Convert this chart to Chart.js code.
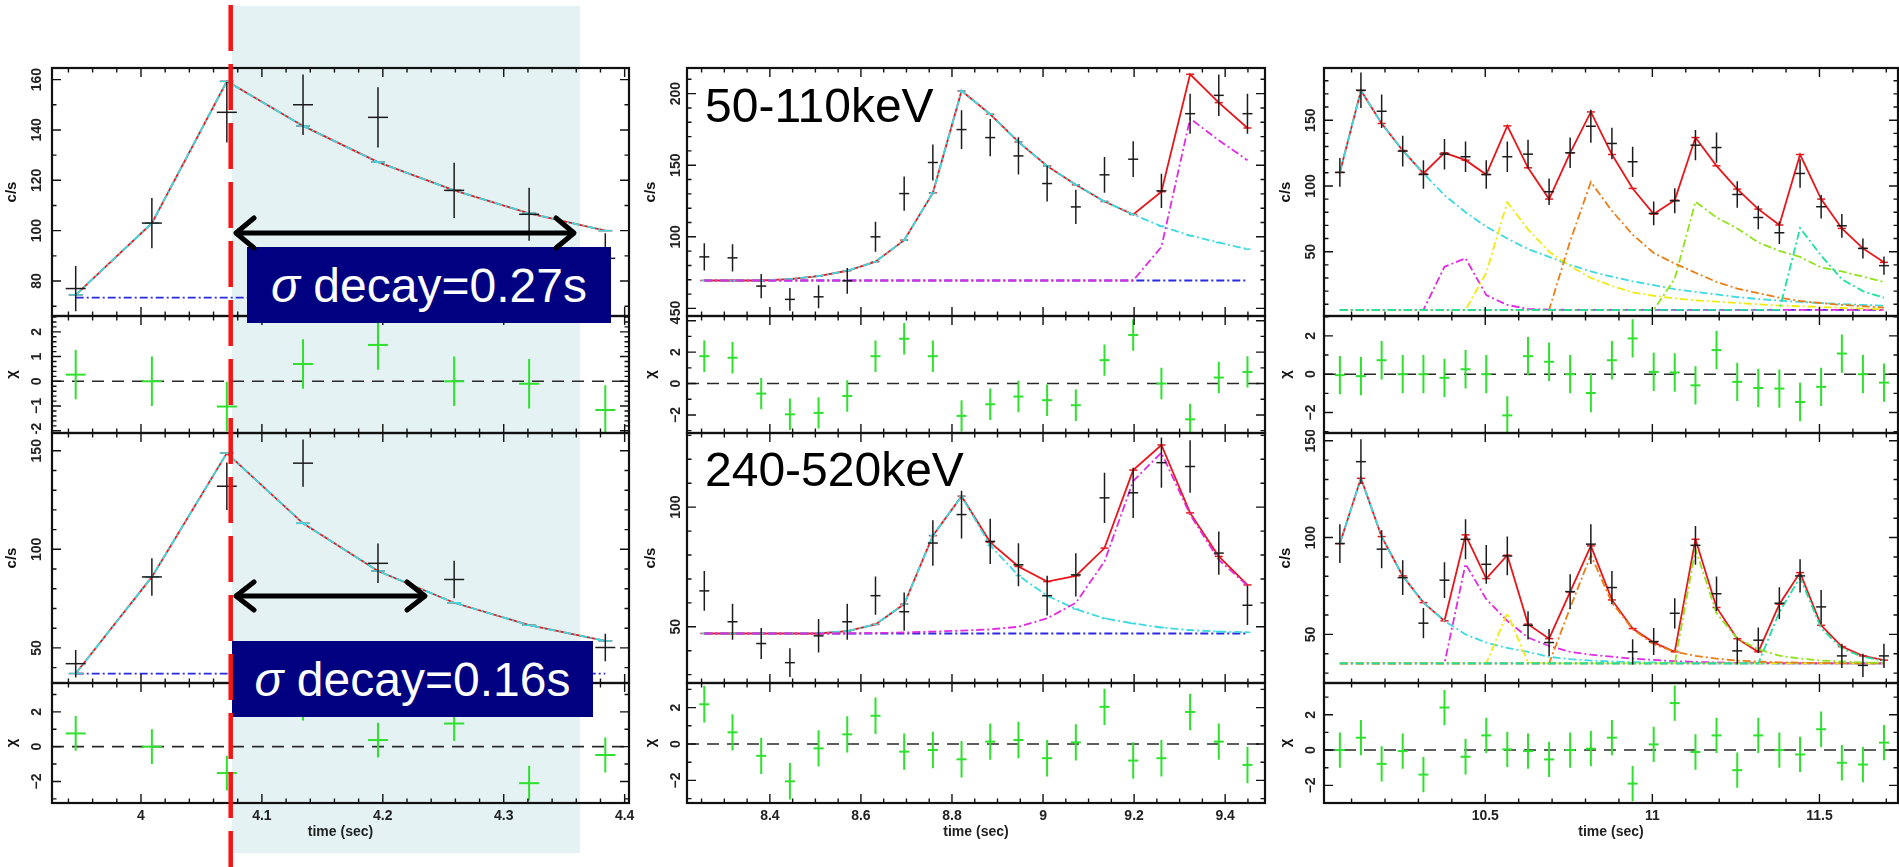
<!DOCTYPE html>
<html>
<head>
<meta charset="utf-8">
<script src="https://cdn.jsdelivr.net/npm/chart.js@4.4.1/dist/chart.umd.min.js"></script>
<style>
  body { margin: 0; width: 1899px; height: 867px; overflow: hidden; background: #fff; position: relative;
         font-family: "Liberation Sans", Arial, sans-serif; }
  #shade { position: absolute; left: 232px; top: 6px; width: 348px; height: 847px; background: #e4f2f4; z-index: 0; }
  canvas { position: absolute; z-index: 1; }
  .box { position: absolute; background: #000080; color: #fff; font-size: 48px; z-index: 2;
         display: flex; align-items: center; justify-content: center; white-space: nowrap; }
  .band { position: absolute; font-size: 48px; line-height: 1; color: #000; z-index: 2; white-space: nowrap; }
  svg { position: absolute; left: 0; top: 0; z-index: 3; }
</style>
</head>
<body>
<div id="shade"></div>
<div class="band" style="left:705px;top:82px">50-110keV</div>
<div class="band" style="left:705px;top:446px">240-520keV</div>
<div class="box" style="left:247px;top:247px;width:364px;height:76px"><span><i>σ</i> decay=0.27s</span></div>
<div class="box" style="left:232px;top:641px;width:361px;height:76px"><span><i>σ</i> decay=0.16s</span></div>
<svg width="1899" height="867">
  <line x1="230.7" y1="5" x2="230.7" y2="867" stroke="#f21616" stroke-width="4.5" stroke-dasharray="46 13"/>
  <g stroke="#000" stroke-width="5" fill="none" stroke-linecap="round" stroke-linejoin="round">
    <line x1="237" y1="233" x2="573" y2="233"/>
    <polyline points="254,218 236,233 254,248"/>
    <polyline points="556,218 574,233 556,248"/>
    <line x1="237" y1="596" x2="424" y2="596"/>
    <polyline points="254,582 236,596 254,610"/>
    <polyline points="407,582 425,596 407,610"/>
  </g>
</svg>
<script>
// time bins (sec)
const t1 = [3.946, 4.009, 4.071, 4.134, 4.196, 4.259, 4.321, 4.384];
const t2 = [8.256, 8.318, 8.381, 8.444, 8.507, 8.570, 8.632, 8.695, 8.758, 8.821,
            8.884, 8.946, 9.009, 9.072, 9.135, 9.198, 9.260, 9.323, 9.386, 9.449];
const t3 = [10.065, 10.128, 10.190, 10.253, 10.315, 10.378, 10.441, 10.503, 10.566, 10.628,
            10.691, 10.754, 10.816, 10.879, 10.941, 11.004, 11.067, 11.129, 11.192, 11.254,
            11.317, 11.380, 11.442, 11.505, 11.567, 11.630, 11.693];

// column 1, upper (50-110 keV)
const aTopRate  = [77, 103, 147, 150, 145, 116, 106.5, 89];
const aTopErr   = [9, 10, 12, 12, 12, 11, 10.5, 10];
const aTopModel = [74.5, 103, 159.3, 141.6, 127.2, 116, 106.9, 100];
const aTopBg = 73.4;
const aTopChi   = [0.27, 0, -1.02, 0.7, 1.47, 0, -0.1, -1.16];
// column 1, lower (240-520 keV)
const aBotRate  = [42, 86, 132, 143.7, 92.9, 84.7, 45, 50.2];
const aBotErr   = [7, 9.5, 12, 12, 10, 9.5, 8, 7];
const aBotModel = [37, 86, 148.8, 113.2, 89, 72.9, 61.5, 53.6];
const aBotBg = 37;
const aBotChi   = [0.76, 0, -1.52, 2.5, 0.38, 1.33, -2.1, -0.48];

// column 2, upper
const bTopRate  = [86, 85.3, 65.6, 56.3, 58.1, 69.3, 100, 130.2, 151.9, 174.9,
                   169.3, 156.5, 137.2, 120.9, 143.3, 154.2, 132.1, 186, 198.8, 186];
const bTopErr   = [9.5, 9.5, 8.5, 8, 8, 9, 10.5, 12, 12.5, 13.5,
                   13, 13, 12.5, 12, 12.5, 12.5, 12, 14, 14.5, 14];
const bTopModel = [69.5, 69.5, 69.5, 70.5, 72.6, 76.3, 82.6, 97.7, 130.7, 201.9,
                   185.6, 166.3, 149.5, 136.3, 124.7, 115.6, 131.5, 213.5, 193.7, 176];
const bTopP1    = [69.5, 69.5, 69.5, 70.5, 72.6, 76.3, 82.6, 97.7, 130.7, 201.9,
                   185.6, 166.3, 149.5, 136.3, 124.7, 115.6, 107.4, 100.9, 96, 91.4];
const bTopP2    = [69.5, 69.5, 69.5, 69.5, 69.5, 69.5, 69.5, 69.5, 69.5, 69.5,
                   69.5, 69.5, 69.5, 69.5, 69.5, 69.5, 93, 182.6, 167.4, 153.5];
const bTopBg = 69.5;
const bTopChi   = [1.74, 1.64, -0.64, -1.96, -1.87, -0.79, 1.74, 2.85, 1.74, -2.06,
                   -1.32, -0.83, -1.06, -1.38, 1.49, 3.09, 0, -2.28, 0.38, 0.74];
// column 2, lower
const bBotRate  = [65, 52.1, 43, 35, 46.2, 52.1, 63, 56.3, 85, 96.9,
                   85.7, 75.9, 63, 71.7, 103.9, 106, 118.6, 117, 80.8, 59];
const bBotErr   = [8.3, 7.5, 6.5, 6, 7, 7.5, 8, 8, 9.5, 10,
                   9.5, 9, 8.3, 9, 10.5, 10.5, 10.5, 11, 9, 8.3];
const bBotModel = [47.2, 47.2, 47.2, 47.2, 47.2, 48.2, 51, 59.5, 88.1, 104.6,
                   85.3, 75.2, 68.9, 71.3, 82.9, 115.5, 126, 97.6, 79.4, 67.5];
const bBotP1    = [47.2, 47.2, 47.2, 47.2, 47.4, 48.2, 51, 59.5, 88.1, 104.6,
                   84, 71.4, 63, 57.4, 53.5, 51.4, 49.7, 48.6, 48, 47.7];
const bBotP2    = [47.2, 47.2, 47.2, 47.2, 47.2, 47.2, 47.4, 47.6, 48, 48.4,
                   48.9, 50, 53.5, 60, 77.3, 110.9, 122.8, 96.9, 78, 67.2];
const bBotBg = 47.2;
const bBotChi   = [2.18, 0.64, -0.65, -2.05, -0.24, 0.53, 1.55, -0.42, -0.33, -0.84,
                   0.13, 0.22, -0.78, 0.09, 2.04, -0.91, -0.78, 1.76, 0.13, -1.15];

// column 3, upper
const cTopRate  = [110.3, 172.8, 156.8, 126.5, 108.7, 124.2, 122.2, 108.7, 122.2, 124.2,
                   95.6, 125.2, 145.4, 132.3, 118.4, 79.1, 88.7, 131, 129.2, 93.5,
                   76, 64.4, 109.5, 84.2, 69.7, 52.5, 39.4];
const cTopErr   = [11, 13.5, 12.8, 11.7, 10.8, 11.6, 11.6, 10.8, 11.6, 11,
                   10, 11.6, 12.5, 12, 11.5, 9, 9.5, 11.5, 11.5, 10,
                   9, 8.5, 10.8, 9, 9, 7.6, 7];
const cTopModel = [110.3, 172.5, 147.5, 127, 109.5, 125.2, 119.6, 108.7, 145.7, 113.8,
                   90, 125.2, 156.3, 123.9, 98.1, 78.6, 89.2, 136.8, 115.3, 97.6,
                   82.4, 70.3, 123.9, 90, 67.7, 52.5, 41.9];
const cTopP1    = [110.3, 172.5, 147.5, 127, 109.5, 93, 80, 69, 60, 52,
                   46, 40, 35, 31, 27.5, 24.5, 21.5, 19.5, 17.5, 15.5,
                   14, 12.8, 11.8, 10.9, 10.2, 9.5, 9];
const cTopP2    = [5.7, 5.7, 5.7, 5.7, 5.7, 38.5, 45, 17, 9.5, 6.5,
                   6, 5.7, 5.7, 5.7, 5.7, 5.7, 5.7, 5.7, 5.7, 5.7,
                   5.7, 5.7, 5.7, 5.7, 5.7, 5.7, 5.7];
const cTopP3    = [5.7, 5.7, 5.7, 5.7, 5.7, 5.7, 5.7, 34, 87.6, 67,
                   50, 39, 30, 24, 19, 16.5, 14.5, 13, 12, 11,
                   10, 9, 8.5, 8, 7.2, 6.7, 6.3];
const cTopP4    = [5.7, 5.7, 5.7, 5.7, 5.7, 5.7, 5.7, 5.7, 5.7, 5.7,
                   5.7, 58, 103, 81, 63, 49, 41, 34, 27, 22,
                   18.5, 15, 12.5, 11, 9.5, 8.5, 7.5];
const cTopP5    = [5.7, 5.7, 5.7, 5.7, 5.7, 5.7, 5.7, 5.7, 5.7, 5.7,
                   5.7, 5.7, 5.7, 5.7, 5.7, 5.7, 29.5, 88, 76, 67.7,
                   57, 50.6, 46, 38, 35, 31, 27];
const cTopP6    = [5.7, 5.7, 5.7, 5.7, 5.7, 5.7, 5.7, 5.7, 5.7, 5.7,
                   5.7, 5.7, 5.7, 5.7, 5.7, 5.7, 5.7, 5.7, 5.7, 5.7,
                   5.7, 5.7, 68, 47, 29, 20, 15];
const cTopBg = 5.7;
const cTopChi   = [-0.05, -0.1, 0.73, 0, 0, -0.19, 0.26, 0, -2.15, 0.94,
                   0.65, 0, -0.98, 0.73, 1.87, 0.12, 0.09, -0.58, 1.26, -0.4,
                   -0.72, -0.75, -1.45, -0.66, 1.08, 0, -0.44];
// column 3, lower
const cBotRate  = [96.9, 139.2, 94, 79.3, 55.8, 78, 99.1, 86.2, 90.5, 54.7,
                   45.8, 72.1, 96.6, 74.2, 41, 46.3, 60.9, 96, 71, 41.5,
                   47, 66.1, 80.2, 64.2, 38.9, 34, 38.9];
const cBotErr   = [10, 11.6, 9.8, 9, 7.8, 9.2, 10.3, 10, 10, 7.3,
                   7, 9, 10.3, 8.6, 6.5, 7, 7.8, 10, 8.9, 7,
                   6.5, 8.2, 8.6, 8.7, 6.3, 6, 6.3];
const cBotModel = [96.9, 130.6, 100.5, 80.2, 66.4, 57, 101.4, 78.8, 90.9, 55.3,
                   47.8, 71.9, 95.7, 67.8, 53, 45.8, 41, 99.1, 63.9, 47.8,
                   41, 65.6, 81.9, 54.7, 43.7, 38.9, 36.7];
const cBotP1    = [96.9, 130.6, 100.5, 80.2, 66.4, 57, 50, 45.8, 43, 41,
                   38.4, 37.2, 36.5, 36, 35.7, 35.5, 35.3, 35.2, 35.1, 35,
                   35, 35, 35, 35, 35, 35, 35];
const cBotP2    = [35, 35, 35, 35, 35, 35, 86.4, 68.2, 57, 48.4,
                   44, 41, 39.5, 38.5, 37.5, 36.8, 36.2, 35.8, 35.5, 35.3,
                   35.2, 35.1, 35, 35, 35, 35, 35];
const cBotP3    = [35, 35, 35, 35, 35, 35, 35, 35, 61, 35.5,
                   35, 35, 35, 35, 35, 35, 35, 35, 35, 35,
                   35, 35, 35, 35, 35, 35, 35];
const cBotP4    = [35, 35, 35, 35, 35, 35, 35, 35, 35, 35,
                   35, 63.7, 91, 66.4, 52.7, 44.9, 41, 38.9, 37.5, 36.5,
                   36, 35.6, 35.4, 35.2, 35.1, 35, 35];
const cBotP5    = [35, 35, 35, 35, 35, 35, 35, 35, 35, 35,
                   35, 35, 35, 35, 35, 35, 35, 94, 61, 47.8,
                   42.3, 39, 37.5, 36.5, 36, 35.5, 35.3];
const cBotP6    = [35, 35, 35, 35, 35, 35, 35, 35, 35, 35,
                   35, 35, 35, 35, 35, 35, 35, 35, 35, 35,
                   35, 61.5, 79.4, 53.2, 42.7, 38.4, 36.4];
const cBotBg = 35;
const cBotChi   = [0, 0.7, -0.78, -0.06, -1.39, 2.41, -0.38, 0.83, 0.04, -0.06,
                   -0.53, 0, 0.08, 0.7, -1.9, 0.32, 2.66, -0.11, 0.83, -1.14,
                   0.83, 0, -0.25, 1.18, -0.72, -0.82, 0.42];
const CHI_ERR = 1;

// colours
const BLACK = '#1c1c1c', RED = '#e8161b', CYAN = '#3fd9e0', BLUE = '#2a2adf', MAGENTA = '#e02ce0',
      YELLOW = '#f0ec10', ORANGE = '#ea7d16', LIME = '#8fe21c', TEAL = '#1fe0a0', GREEN = '#2fe02f';
const DD = [8, 3, 2, 3];

// layout
const FAM = '"Liberation Sans", Arial, sans-serif';
const TICK_FONT = {family: FAM, size: 14, weight: 'bold'};
const TITLE_FONT = {family: FAM, size: 15, weight: 'bold'};
const COLS = [
  {left: 52, right: 629, axisW: 50, labOff: 15, hw: 10, x: {min: 3.9264, max: 4.4036, major: 0.1, minor: 0.02}},
  {left: 687, right: 1265, axisW: 46, labOff: 11, hw: 5, x: {min: 8.218, max: 9.4875, major: 0.2, minor: 0.05}},
  {left: 1324, right: 1898, axisW: 48, labOff: 12.5, hw: 5, x: {min: 10.0175, max: 11.735, major: 0.5, minor: 0.1}}
];
const ROWS = [68, 316, 433, 683, 803];
const PAD = 3, XH = 38, RPAD = 15;

function mkTicks(min, max, minor, major) {
  const out = [];
  for (let k = Math.ceil(min / minor - 1e-9); k <= Math.floor(max / minor + 1e-9); k++) {
    const v = +(k * minor).toFixed(6);
    out.push({value: v, major: Math.abs(v / major - Math.round(v / major)) < 1e-6});
  }
  return out;
}
function fmt(v) {
  return (v < 0 ? '\u2212' : '') + String(+Math.abs(v).toFixed(3));
}
function pts(t, v) { return t.map((x, i) => ({x, y: v[i]})); }
function bars(t, v, e) {
  const d = [];
  t.forEach((x, i) => {
    const ei = Array.isArray(e) ? e[i] : e;
    d.push({x, y: v[i] - ei}, {x, y: v[i] + ei}, {x, y: null});
  });
  return d;
}
function cross(t, v, e, color, hw, lw) {
  return [
    {data: pts(t, v), showLine: false, pointStyle: 'line', pointRadius: hw, pointBorderColor: color, pointBorderWidth: lw},
    {data: bars(t, v, e), showLine: true, spanGaps: false, borderColor: color, borderWidth: lw, pointRadius: 0}
  ];
}
function curve(t, v, color, dash, mk) {
  return {data: pts(t, v), showLine: true, borderColor: color, borderWidth: 1.8, borderDash: dash,
          pointRadius: mk || 0, pointStyle: 'line', pointBorderColor: color, pointBorderWidth: 1.5};
}
function flat(t, level, color) {
  return {data: [{x: t[0], y: level}, {x: t[t.length - 1], y: level}], showLine: true,
          borderColor: color, borderWidth: 1.8, borderDash: DD, pointRadius: 0};
}

// frame with inward ticks on all four sides, rotated y labels
const framePlugin = {
  id: 'frame',
  afterDraw(chart, args, opts) {
    const {ctx, chartArea: a, scales: {x, y}} = chart;
    ctx.save();
    ctx.strokeStyle = '#111';
    ctx.lineWidth = 1.4;
    ctx.beginPath();
    for (const t of x.ticks) {
      const p = x.getPixelForValue(t.value), L = t.major ? 9 : 4.5;
      ctx.moveTo(p, a.top); ctx.lineTo(p, a.top + L);
      ctx.moveTo(p, a.bottom); ctx.lineTo(p, a.bottom - L);
    }
    for (const t of y.ticks) {
      const p = y.getPixelForValue(t.value), L = t.major ? 9 : 4.5;
      ctx.moveTo(a.left, p); ctx.lineTo(a.left + L, p);
      ctx.moveTo(a.right, p); ctx.lineTo(a.right - L, p);
    }
    ctx.stroke();
    ctx.lineWidth = 2.2;
    ctx.strokeRect(a.left, a.top, a.right - a.left, a.bottom - a.top);

    // labels stop at the lower edge of the panel, as in the original plot
    ctx.beginPath();
    ctx.rect(0, 0, a.left, a.bottom + 1);
    ctx.clip();
    ctx.fillStyle = '#222';
    ctx.font = 'bold 14px ' + FAM;
    ctx.textAlign = 'center';
    ctx.textBaseline = 'middle';
    for (const t of y.ticks) {
      if (!t.major) continue;
      ctx.save();
      ctx.translate(a.left - opts.labOff, y.getPixelForValue(t.value));
      ctx.rotate(-Math.PI / 2);
      ctx.fillText(fmt(t.value), 0, 0);
      ctx.restore();
    }
    ctx.restore();
  }
};

function noPad(s) { s.paddingTop = 0; s.paddingBottom = 0; s.paddingLeft = 0; s.paddingRight = 0; }

function panel(col, row, yr, yTitle, datasets) {
  const c = COLS[col];
  const showX = row === 3;
  const plotW = c.right - c.left, plotH = ROWS[row + 1] - ROWS[row];
  const cv = document.createElement('canvas');
  cv.width = c.axisW + plotW + RPAD;
  cv.height = PAD + plotH + (showX ? XH : PAD);
  cv.style.left = (c.left - c.axisW) + 'px';
  cv.style.top = (ROWS[row] - PAD) + 'px';
  document.body.appendChild(cv);

  new Chart(cv, {
    type: 'scatter',
    data: {datasets},
    options: {
      responsive: false, animation: false, devicePixelRatio: 1, events: [],
      layout: {autoPadding: false, padding: {left: 0, right: RPAD, top: PAD, bottom: showX ? 0 : PAD}},
      plugins: {legend: {display: false}, tooltip: {enabled: false}, frame: {labOff: c.labOff}},
      scales: {
        x: {
          type: 'linear', min: c.x.min, max: c.x.max, bounds: 'data',
          afterBuildTicks: s => { s.ticks = mkTicks(c.x.min, c.x.max, c.x.minor, c.x.major); },
          afterFit: s => { s.height = showX ? XH : 0; noPad(s); },
          grid: {display: false, drawTicks: false}, border: {display: false},
          ticks: {display: showX, autoSkip: false, maxRotation: 0, padding: 5, color: '#222', font: TICK_FONT,
                  callback: (v, i, ts) => ts[i].major ? fmt(v) : ''},
          title: {display: showX, text: 'time (sec)', padding: 0, color: '#222', font: TICK_FONT}
        },
        y: {
          type: 'linear', min: yr.min, max: yr.max, bounds: 'data',
          afterBuildTicks: s => { s.ticks = mkTicks(yr.min, yr.max, yr.minor, yr.major); },
          afterFit: s => { s.width = c.axisW; noPad(s); },
          grid: {display: false, drawTicks: false}, border: {display: false},
          ticks: {display: false},
          title: {display: true, text: yTitle, padding: {top: 1, bottom: 0}, color: '#111', font: TITLE_FONT}
        }
      }
    },
    plugins: [framePlugin]
  });
}

function zero(col) {
  const x = COLS[col].x;
  return {data: [{x: x.min, y: 0}, {x: x.max, y: 0}], showLine: true, borderColor: '#2a2a2a',
          borderWidth: 1.6, borderDash: [12, 8], pointRadius: 0};
}
function chiPanel(col, row, yr, t, chi) {
  panel(col, row, yr, 'χ', [...cross(t, chi, CHI_ERR, GREEN, COLS[col].hw, 2), zero(col)]);
}

// column 1
panel(0, 0, {min: 66.1, max: 164.6, major: 20, minor: 10}, 'c/s', [
  ...cross(t1, aTopRate, aTopErr, BLACK, 10, 1.5),
  curve(t1, aTopModel, CYAN, DD, 7), curve(t1, aTopModel, RED, [], 7), flat(t1, aTopBg, BLUE)]);
chiPanel(0, 1, {min: -2.09, max: 2.64, major: 1, minor: 0.2}, t1, aTopChi);
panel(0, 2, {min: 32.2, max: 159, major: 50, minor: 10}, 'c/s', [
  ...cross(t1, aBotRate, aBotErr, BLACK, 10, 1.5),
  curve(t1, aBotModel, CYAN, DD, 7), curve(t1, aBotModel, RED, [], 7), flat(t1, aBotBg, BLUE)]);
chiPanel(0, 3, {min: -3.24, max: 3.66, major: 2, minor: 1}, t1, aBotChi);

// column 2
panel(1, 0, {min: 44.7, max: 217.9, major: 50, minor: 10}, 'c/s', [
  ...cross(t2, bTopRate, bTopErr, BLACK, 5, 1.5),
  curve(t2, bTopP2, MAGENTA, DD), curve(t2, bTopP1, CYAN, DD, 3),
  curve(t2, bTopModel, RED, [], 4), flat(t2, bTopBg, BLUE)]);
chiPanel(1, 1, {min: -3.15, max: 4.3, major: 2, minor: 1}, t2, bTopChi);
panel(1, 2, {min: 26.5, max: 131, major: 50, minor: 10}, 'c/s', [
  ...cross(t2, bBotRate, bBotErr, BLACK, 5, 1.5),
  curve(t2, bBotP2, MAGENTA, DD), curve(t2, bBotP1, CYAN, DD, 3),
  curve(t2, bBotModel, RED, [], 4), flat(t2, bBotBg, BLUE)]);
chiPanel(1, 3, {min: -3.24, max: 3.35, major: 2, minor: 1}, t2, bBotChi);

// column 3
panel(2, 0, {min: 1.1, max: 189.7, major: 50, minor: 10}, 'c/s', [
  ...cross(t3, cTopRate, cTopErr, BLACK, 5, 1.5),
  curve(t3, cTopP6, TEAL, DD), curve(t3, cTopP5, LIME, DD), curve(t3, cTopP4, ORANGE, DD),
  curve(t3, cTopP3, YELLOW, DD), curve(t3, cTopP2, MAGENTA, DD), curve(t3, cTopP1, CYAN, DD),
  curve(t3, cTopModel, RED, [], 4), flat(t3, cTopBg, BLUE)]);
chiPanel(2, 1, {min: -3.07, max: 3.04, major: 2, minor: 1}, t3, cTopChi);
panel(2, 2, {min: 24.9, max: 154, major: 50, minor: 10}, 'c/s', [
  ...cross(t3, cBotRate, cBotErr, BLACK, 5, 1.5),
  curve(t3, cBotP6, TEAL, DD), curve(t3, cBotP5, LIME, DD), curve(t3, cBotP4, ORANGE, DD),
  curve(t3, cBotP3, YELLOW, DD), curve(t3, cBotP2, MAGENTA, DD), curve(t3, cBotP1, CYAN, DD),
  curve(t3, cBotModel, RED, [], 4), flat(t3, cBotBg, BLUE)]);
chiPanel(2, 3, {min: -3.0, max: 3.8, major: 2, minor: 1}, t3, cBotChi);
</script>
</body>
</html>
